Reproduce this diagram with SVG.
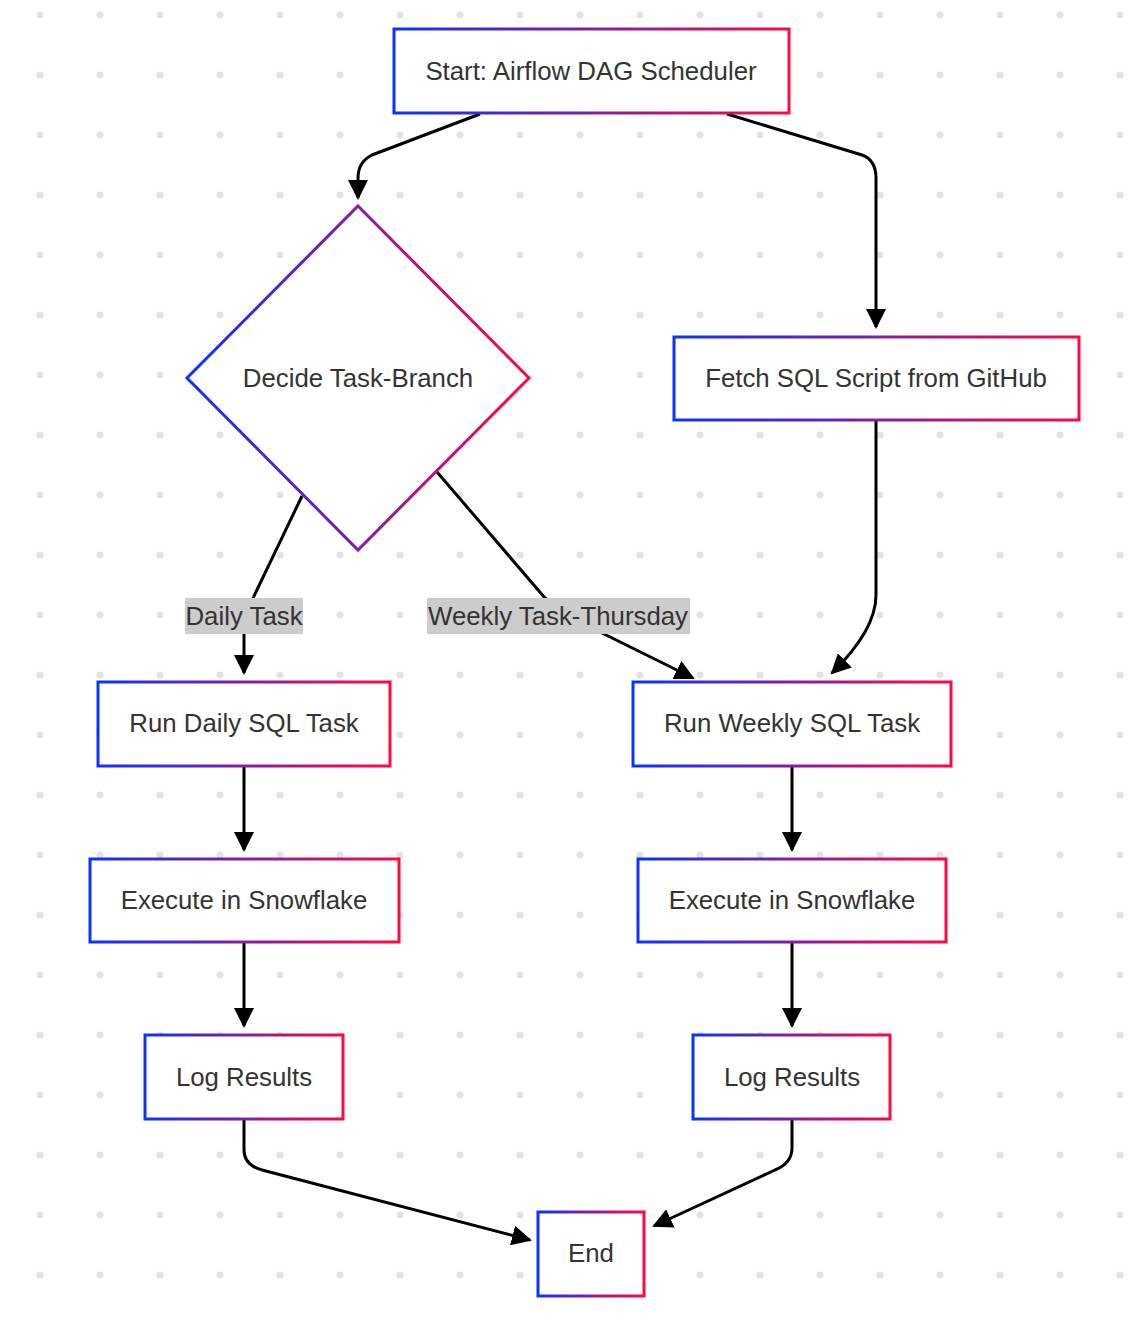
<svg xmlns="http://www.w3.org/2000/svg" width="1144" height="1328" viewBox="0 0 1144 1328">
<style>
.n{fill:#fff;stroke:url(#g);stroke-width:3}
.t{font-family:"Liberation Sans",Arial,sans-serif;font-size:25.8px;fill:#333;text-anchor:middle;dominant-baseline:central}
.e{fill:none;stroke:#000;stroke-width:3;marker-end:url(#a2)}
.lb{fill:#ccc}
</style>
<defs>
<linearGradient id="g" x1="0" y1="0" x2="1" y2="0"><stop offset="0" stop-color="#0a33ff"/><stop offset="1" stop-color="#ff0844"/></linearGradient>
<pattern id="p" x="10" y="-15" width="60" height="60" patternUnits="userSpaceOnUse"><circle cx="30" cy="30" r="3.5" fill="#e2e2e2"/></pattern>
<marker id="a2" viewBox="0 0 10 10" refX="9" refY="5" markerWidth="20" markerHeight="20" markerUnits="userSpaceOnUse" orient="auto"><path d="M0,0L10,5L0,10z" fill="#000"/></marker>
</defs>
<rect width="1144" height="1328" fill="#fff"/>
<rect width="1144" height="1328" fill="url(#p)"/>
<g id="edges">
<path class="e" d="M480,114L372,155Q358,162 358,178L358,198"/>
<path class="e" d="M727,114L862,155Q876,160 876,178L876,327"/>
<path class="e" d="M302,496L254,596L244,620L244,673"/>
<path class="e" d="M437,472L545,598L600,632L693,678"/>
<path class="e" d="M876,421L876,595Q876,630 832,673"/>
<path class="e" d="M244,767L244,850"/>
<path class="e" d="M244,943L244,1026"/>
<path class="e" d="M792,767L792,850"/>
<path class="e" d="M792,943L792,1026"/>
<path class="e" d="M244,1120L244,1150Q244,1165 262,1170L530,1240"/>
<path class="e" d="M792,1120L792,1148Q792,1163 775,1170L654,1226"/>
<rect class="lb" x="185" y="598" width="118" height="36"/>
<text class="t" x="244" y="616">Daily Task</text>
<rect class="lb" x="427" y="598" width="263" height="36"/>
<text class="t" x="558" y="616">Weekly Task-Thursday</text>
</g>
<g id="start"><rect class="n" x="394" y="29" width="395" height="84"/><text class="t" x="591" y="71">Start: Airflow DAG Scheduler</text></g>
<g id="decide"><path class="n" d="M358,206L529,378L358,550L187,378Z"/><text class="t" x="358" y="378">Decide Task-Branch</text></g>
<g id="fetch"><rect class="n" x="674" y="337" width="405" height="83"/><text class="t" x="876" y="378">Fetch SQL Script from GitHub</text></g>
<g id="runDaily"><rect class="n" x="98" y="682" width="292" height="84"/><text class="t" x="244" y="723">Run Daily SQL Task</text></g>
<g id="runWeekly"><rect class="n" x="633" y="682" width="318" height="84"/><text class="t" x="792" y="723">Run Weekly SQL Task</text></g>
<g id="exDaily"><rect class="n" x="90" y="859" width="309" height="83"/><text class="t" x="244" y="900">Execute in Snowflake</text></g>
<g id="exWeekly"><rect class="n" x="638" y="859" width="308" height="83"/><text class="t" x="792" y="900">Execute in Snowflake</text></g>
<g id="logDaily"><rect class="n" x="145" y="1035" width="198" height="84"/><text class="t" x="244" y="1077">Log Results</text></g>
<g id="logWeekly"><rect class="n" x="693" y="1035" width="197" height="84"/><text class="t" x="792" y="1077">Log Results</text></g>
<g id="end"><rect class="n" x="538" y="1212" width="106" height="84"/><text class="t" x="591" y="1253">End</text></g>
</svg>
